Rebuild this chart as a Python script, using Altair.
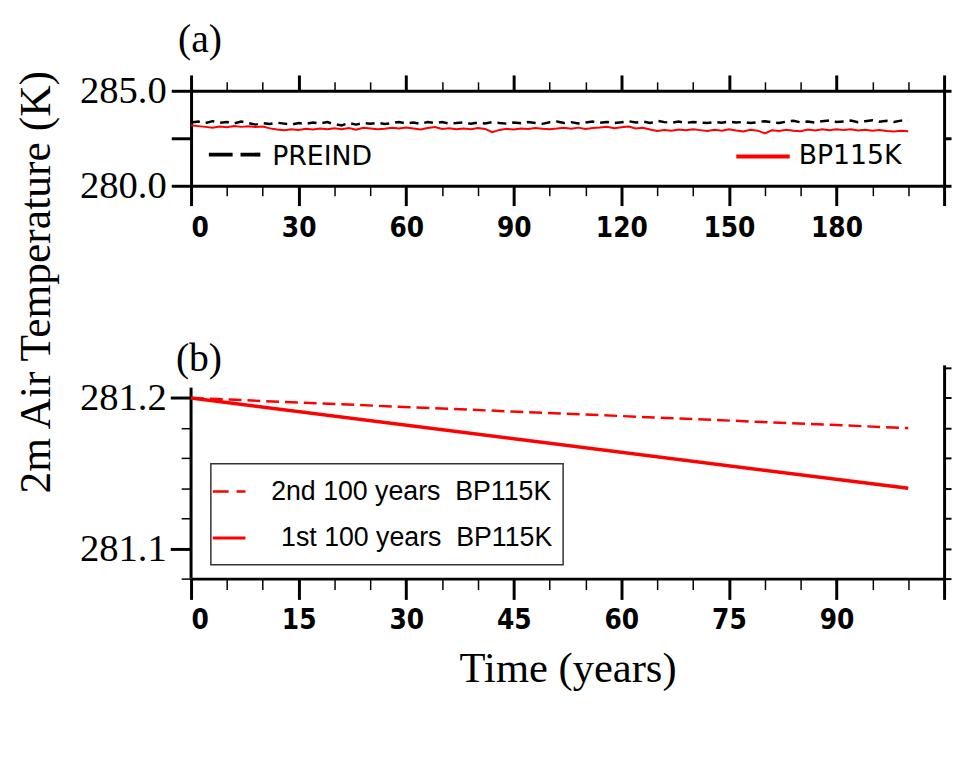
import altair as alt
import pandas as pd

# ---------------- data ----------------
years_a = list(range(0, 201, 2))
preind = [
    283.33, 283.38, 283.30, 283.40, 283.32, 283.36, 283.28, 283.38, 283.30, 283.22, 283.30,
    283.25, 283.32, 283.27, 283.22, 283.30, 283.26, 283.33, 283.28, 283.35, 283.24,
    283.18, 283.30, 283.22, 283.30, 283.26, 283.32, 283.25, 283.30, 283.36, 283.28,
    283.33, 283.26, 283.36, 283.30, 283.35, 283.27, 283.30, 283.34, 283.26, 283.33,
    283.28, 283.35, 283.30, 283.27, 283.33, 283.29, 283.36, 283.30, 283.26, 283.34,
    283.38, 283.30, 283.35, 283.28, 283.33, 283.38, 283.31, 283.36, 283.30, 283.34,
    283.40, 283.33, 283.38, 283.30, 283.42, 283.35, 283.32, 283.38, 283.31, 283.36,
    283.33, 283.30, 283.36, 283.32, 283.38, 283.33, 283.36, 283.30, 283.35, 283.40,
    283.34, 283.30, 283.38, 283.42, 283.34, 283.38, 283.33, 283.40, 283.44, 283.36,
    283.38, 283.43, 283.35, 283.40, 283.45, 283.37, 283.42, 283.36, 283.43, 283.46,
]
bp115k = [
    283.18, 283.14, 283.10, 283.06, 283.12, 283.08, 283.14, 283.10, 283.13, 283.09, 283.12,
    283.02, 282.96, 282.92, 282.98, 282.94, 283.00, 282.96, 283.02, 282.98, 283.03,
    282.98, 283.04, 282.95, 283.05, 283.01, 282.97, 283.00, 283.05, 283.01, 283.07,
    283.02, 282.96, 283.04, 283.09, 282.99, 283.03, 282.97, 283.02, 282.98, 283.04,
    282.99, 282.82, 282.94, 283.00, 282.96, 283.02, 282.99, 283.04, 283.00, 282.98,
    283.01, 283.05, 283.00, 283.06, 282.99, 283.04, 283.07, 283.11, 283.03, 283.08,
    283.12, 283.02, 283.05, 282.96, 282.88, 282.94, 282.90, 282.96, 282.92, 282.97,
    282.93, 282.88, 282.95, 282.90, 282.97, 282.91, 282.86, 282.95, 282.90, 282.76,
    282.92, 282.88, 282.95, 282.90, 282.87, 282.96, 282.91, 282.97, 282.92, 282.98,
    282.93, 282.97, 282.91, 282.95, 282.90, 282.93, 282.88, 282.86, 282.90, 282.87,
]

years_b = [0, 100]
first100 = [281.20, 281.14]
second100 = [281.20, 281.18]

# tick values / labels
xa_major = [0, 30, 60, 90, 120, 150, 180, 210]
xa_minor = list(range(0, 211, 10))
ya_ticks = [280.0, 282.5, 285.0]
xb_major = [0, 15, 30, 45, 60, 75, 90, 105]
xb_minor = list(range(0, 106, 5))
yb_major = [281.1, 281.2]
yb_minor = [281.08, 281.12, 281.14, 281.16, 281.18]
yb_right = [281.08, 281.10, 281.12, 281.14, 281.16, 281.18, 281.20, 281.22]

panel_labels = ["(a)", "(b)"]
legend_a = ["PREIND", "BP115K"]
legend_b = ["2nd 100 years\u00a0 BP115K", "1st 100 years\u00a0 BP115K"]
y_title = "2m Air Temperature (K)"
x_title = "Time (years)"

SERIF = "Liberation Serif"
SANS_B = "DejaVu Sans Condensed, DejaVu Sans"
SANS_A = "DejaVu Sans"
SANS_LEG = "Liberation Sans"

W = 761
HA = 96
HB = 216


def ax(**kw):
    base = dict(title=None, grid=False, domainColor="black", tickColor="black",
                labelColor="black")
    base.update(kw)
    return alt.Axis(**base)


def one(label):
    return pd.DataFrame({"t": [label]})


# ---------------- panel (a) ----------------
df_a = pd.DataFrame({"year": years_a, "PREIND": preind, "BP115K": bp115k})
sx_a = alt.Scale(domain=[0, 210], nice=False, zero=False)
sy_a = alt.Scale(domain=[280, 285], nice=False, zero=False)

red_a = alt.Chart(df_a).mark_line(color="red", strokeWidth=2).encode(
    x=alt.X("year:Q", scale=sx_a,
            axis=ax(orient="bottom", values=xa_major, tickSize=20, tickWidth=3,
                    domainWidth=3, labelExpr="datum.value == 210 ? '' : datum.label",
                    labelFont=SANS_B, labelFontWeight="bold", labelFontSize=28,
                    labelPadding=9)),
    y=alt.Y("BP115K:Q", scale=sy_a,
            axis=ax(orient="left", values=ya_ticks, tickSize=20, tickWidth=3,
                    domainWidth=3,
                    labelExpr="datum.value == 282.5 ? '' : format(datum.value, '.1f')",
                    labelFont=SERIF, labelFontSize=39, labelPadding=5,
                    title=y_title, titleFont=SERIF, titleFontSize=44,
                    titleFontWeight="normal", titleColor="black",
                    titleX=-156, titleY=193, titleAngle=270,
                    titleAlign="center", titleBaseline="middle")),
)

black_a = alt.Chart(df_a).mark_line(color="black", strokeWidth=2.5,
                                    strokeDash=[9, 6]).encode(
    x=alt.X("year:Q", scale=sx_a,
            axis=ax(orient="bottom", values=xa_minor, tickSize=10, tickWidth=1.5,
                    domain=False, labels=False)),
    y=alt.Y("PREIND:Q", scale=sy_a,
            axis=ax(orient="right", values=ya_ticks, tickSize=7, tickWidth=3,
                    domainWidth=3, labels=False)),
)

top_major = alt.Chart(df_a).mark_line(opacity=0).encode(
    x=alt.X("year:Q", scale=sx_a,
            axis=ax(orient="top", values=xa_major, tickSize=16, tickWidth=3,
                    domainWidth=3, labels=False)),
    y=alt.Y("PREIND:Q", scale=sy_a, axis=None),
)
top_minor = alt.Chart(df_a).mark_line(opacity=0).encode(
    x=alt.X("year:Q", scale=sx_a,
            axis=ax(orient="top", values=xa_minor, tickSize=9, tickWidth=1.5,
                    domain=False, labels=False)),
    y=alt.Y("PREIND:Q", scale=sy_a, axis=None),
)

leg_a1_line = alt.Chart(one(legend_a[0])).mark_rule(
    color="black", strokeWidth=4, strokeDash=[24, 8]).encode(
    x=alt.value(18), x2=alt.value(70), y=alt.value(64.5))
leg_a1_text = alt.Chart(one(legend_a[0])).mark_text(
    font=SANS_A, fontSize=27, align="left", baseline="middle", color="black").encode(
    text="t:N", x=alt.value(82), y=alt.value(67))
leg_a2_line = alt.Chart(one(legend_a[1])).mark_rule(
    color="red", strokeWidth=4).encode(
    x=alt.value(551), x2=alt.value(605), y=alt.value(66.5))
leg_a2_text = alt.Chart(one(legend_a[1])).mark_text(
    font=SANS_A, fontSize=27, align="left", baseline="middle", color="black").encode(
    text="t:N", x=alt.value(614), y=alt.value(66))
lab_a = alt.Chart(one(panel_labels[0])).mark_text(
    font=SERIF, fontSize=40, align="center", baseline="middle", color="black").encode(
    text="t:N", x=alt.value(9), y=alt.value(-51))

panel_a = alt.layer(
    top_major, top_minor, black_a, red_a,
    leg_a1_line, leg_a1_text, leg_a2_line, leg_a2_text, lab_a,
).resolve_axis(x="independent", y="independent").properties(width=W, height=HA)

# ---------------- panel (b) ----------------
df_b = pd.DataFrame({"year": years_b, "first": first100, "second": second100})
sx_b = alt.Scale(domain=[0, 105], nice=False, zero=False)
sy_b = alt.Scale(domain=[281.08, 281.222], nice=False, zero=False)

second_b = alt.Chart(df_b).mark_line(color="red", strokeWidth=2.5,
                                     strokeDash=[13, 6]).encode(
    x=alt.X("year:Q", scale=sx_b,
            axis=ax(orient="bottom", values=xb_minor, tickSize=11, tickWidth=1.5,
                    domain=False, labels=False)),
    y=alt.Y("second:Q", scale=sy_b,
            axis=ax(orient="left", values=yb_minor, tickSize=10, tickWidth=1.5,
                    domain=False, labels=False)),
)
first_b = alt.Chart(df_b).mark_line(color="red", strokeWidth=3.5).encode(
    x=alt.X("year:Q", scale=sx_b,
            axis=ax(orient="bottom", values=xb_major, tickSize=21, tickWidth=3,
                    domainWidth=3, labelExpr="datum.value == 105 ? '' : datum.label",
                    labelFont=SANS_B, labelFontWeight="bold", labelFontSize=28,
                    labelPadding=7,
                    title=x_title, titleFont=SERIF, titleFontSize=43,
                    titleFontWeight="normal", titleColor="black", titlePadding=14)),
    y=alt.Y("first:Q", scale=sy_b,
            axis=ax(orient="left", values=yb_major, tickSize=21, tickWidth=3,
                    domain=False, format=".1f", labelFont=SERIF, labelFontSize=39,
                    labelPadding=4)),
)
right_b = alt.Chart(df_b).mark_line(opacity=0).encode(
    x=alt.X("year:Q", scale=sx_b, axis=None),
    y=alt.Y("first:Q", scale=sy_b,
            axis=ax(orient="right", values=yb_right, tickSize=7, tickWidth=2,
                    domainWidth=3, labels=False)),
)
spine_b = alt.Chart(one("spine")).mark_rule(color="black", strokeWidth=3).encode(
    x=alt.value(0), y=alt.value(23), y2=alt.value(HB))

box_b = alt.Chart(one("box")).mark_rect(fill="white", stroke="#333",
                                         strokeWidth=1.5).encode(
    x=alt.value(20), x2=alt.value(376), y=alt.value(100), y2=alt.value(202))
leg_b1_line = alt.Chart(one(legend_b[0])).mark_rule(
    color="red", strokeWidth=2.5, strokeDash=[16, 8]).encode(
    x=alt.value(22), x2=alt.value(55), y=alt.value(128))
leg_b1_text = alt.Chart(one(legend_b[0])).mark_text(
    font=SANS_LEG, fontSize=27, align="right", baseline="middle", color="black").encode(
    text="t:N", x=alt.value(364), y=alt.value(129))
leg_b2_line = alt.Chart(one(legend_b[1])).mark_rule(
    color="red", strokeWidth=3).encode(
    x=alt.value(22), x2=alt.value(55), y=alt.value(175))
leg_b2_text = alt.Chart(one(legend_b[1])).mark_text(
    font=SANS_LEG, fontSize=27, align="right", baseline="middle", color="black").encode(
    text="t:N", x=alt.value(365), y=alt.value(175))
lab_b = alt.Chart(one(panel_labels[1])).mark_text(
    font=SERIF, fontSize=40, align="center", baseline="middle", color="black").encode(
    text="t:N", x=alt.value(8), y=alt.value(-6))

panel_b = alt.layer(
    right_b, spine_b, second_b, first_b,
    box_b, leg_b1_line, leg_b1_text, leg_b2_line, leg_b2_text, lab_b,
).resolve_axis(x="independent", y="independent").properties(width=W, height=HB)

chart = alt.vconcat(panel_a, panel_b, spacing=181, bounds="flush").properties(
    padding={"left": 7, "top": 9, "right": 0, "bottom": 5},
    background="white",
).configure_view(stroke=None)

chart.save("out.html", embed_options={"renderer": "svg", "actions": False})
